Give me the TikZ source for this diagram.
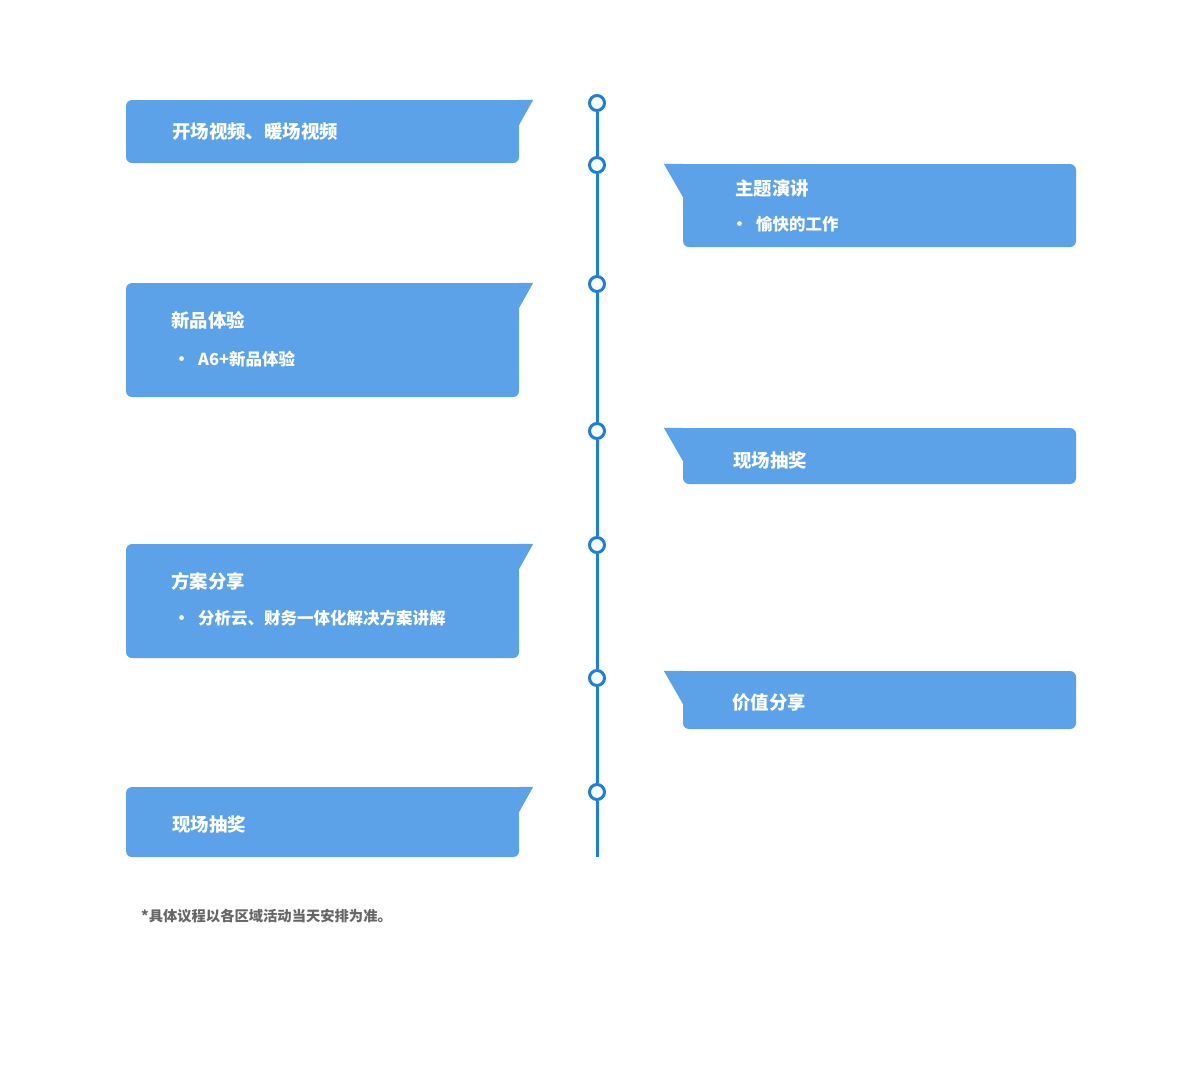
\documentclass[tikz,border=0pt]{standalone}
\usepackage{fontspec}
\newfontfamily\cjk{Noto Sans CJK SC}
\definecolor{boxc}{HTML}{5BA2E8}
\definecolor{linec}{HTML}{1A7FE0}
\definecolor{notec}{HTML}{666666}
\tikzset{
  box/.style={fill=boxc, rounded corners=6pt, minimum width=393pt, inner sep=0pt},
  ttl/.style={anchor=west, inner sep=0pt, text=white, font=\cjk\bfseries\fontsize{18.4}{22}\selectfont},
  itm/.style={anchor=west, inner sep=0pt, text=white, font=\cjk\bfseries\fontsize{16.5}{20}\selectfont},
  bul/.style={anchor=center, inner sep=0pt, text=white, font=\cjk\bfseries\fontsize{17}{20}\selectfont},
  dot/.style={circle, draw=linec, line width=3pt, fill=white, minimum size=15pt, inner sep=0pt},
  tl/.style={draw=linec, line width=3pt},
  fold/.style={draw=white, draw opacity=0.35, line width=0.8pt}
}
\begin{document}
\begin{tikzpicture}[x=1pt,y=-1pt]
\useasboundingbox (0,0) rectangle (1200,1072);
% boxes
\node[box, minimum height=63pt]  (L1) at (322.5,131.5) {};
\node[box, minimum height=114pt] (L2) at (322.5,340) {};
\node[box, minimum height=114pt] (L3) at (322.5,601) {};
\node[box, minimum height=70pt]  (L4) at (322.5,822) {};
\node[box, minimum height=83pt]  (R1) at (879.5,205.5) {};
\node[box, minimum height=56pt]  (R2) at (879.5,456) {};
\node[box, minimum height=58pt]  (R3) at (879.5,700) {};
% flags left
\foreach \b in {L1,L2,L3,L4}{
  \fill[boxc] (\b.north east) rectangle ++(-8,8);
  \fill[boxc] (\b.north east) -- ++(14,0) -- ++(-14,25) -- cycle;
  \draw[fold] ([xshift=-4pt]\b.north east) .. controls ++(4,0) and ++(0,-4) .. ([yshift=6pt]\b.north east) -- ([yshift=22pt]\b.north east);
}
% flags right
\foreach \b in {R1,R2,R3}{
  \fill[boxc] (\b.north west) rectangle ++(8,8);
  \fill[boxc] (\b.north west) -- ++(-19,0) -- ++(19,33) -- cycle;
  \draw[fold] ([xshift=6pt]\b.north west) .. controls ++(-5,0) and ++(0,-4) .. ([yshift=6pt]\b.north west) -- ([yshift=30pt]\b.north west);
}
% timeline
\coordinate (end) at (597,857);
\node[dot] (c1) at (597,103) {};
\node[dot] (c2) at (597,165) {};
\node[dot] (c3) at (597,284) {};
\node[dot] (c4) at (597,431) {};
\node[dot] (c5) at (597,545) {};
\node[dot] (c6) at (597,678) {};
\node[dot] (c7) at (597,792) {};
\draw[tl] (c1) -- (c2);
\draw[tl] (c2) -- (c3);
\draw[tl] (c3) -- (c4);
\draw[tl] (c4) -- (c5);
\draw[tl] (c5) -- (c6);
\draw[tl] (c6) -- (c7);
\draw[tl] (c7) -- (end);
% texts
\node[ttl] (t1) at (172,132) {开场视频、暖场视频};
\node[ttl] (t2) at (735,188) {主题演讲};
\node[bul] (b2) at (739.5,226) {•};
\node[itm] (i2) at (756,224) {愉快的工作};
\node[ttl] (t3) at (171,320) {新品体验};
\node[bul] (b3) at (181.5,361) {•};
\node[itm] (i3) at (198,359) {A6+新品体验};
\node[ttl] (t4) at (733,460) {现场抽奖};
\node[ttl] (t5) at (171,581) {方案分享};
\node[bul] (b5) at (181.5,620) {•};
\node[itm] (i5) at (198,618) {分析云、财务一体化解决方案讲解};
\node[ttl] (t6) at (732,703) {价值分享};
\node[ttl] (t7) at (172,824) {现场抽奖};
\node[anchor=west, inner sep=0pt, text=notec, font=\cjk\bfseries\fontsize{14.3}{17}\selectfont] (note) at (141,916) {*具体议程以各区域活动当天安排为准。};
\end{tikzpicture}
\end{document}
